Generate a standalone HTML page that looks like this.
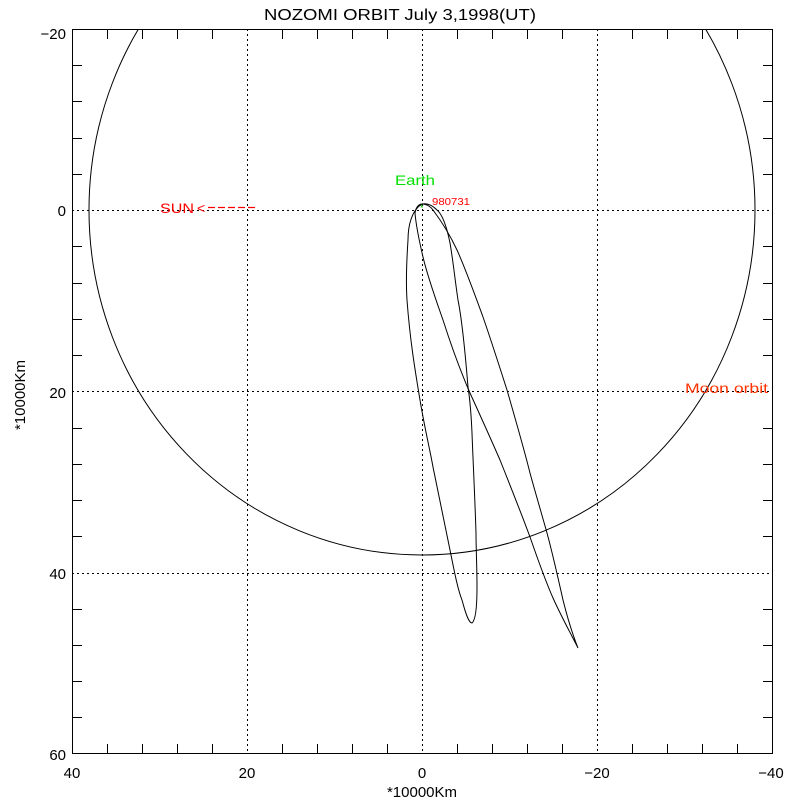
<!DOCTYPE html>
<html><head><meta charset="utf-8"><style>
body{margin:0;background:#fff}
svg text{font-family:"Liberation Sans",sans-serif}
</style></head><body>
<svg width="800" height="800" viewBox="0 0 800 800" xmlns="http://www.w3.org/2000/svg">
<rect width="800" height="800" fill="#fff"/>
<defs><clipPath id="c"><rect x="72" y="29" width="701" height="725"/></clipPath></defs>
<g stroke="#000" stroke-width="1" stroke-dasharray="2,3" fill="none">
<line x1="247.5" y1="29" x2="247.5" y2="754"/>
<line x1="422.5" y1="29" x2="422.5" y2="754"/>
<line x1="597.5" y1="29" x2="597.5" y2="754"/>
<line x1="72" y1="210.5" x2="773" y2="210.5"/>
<line x1="72" y1="391.5" x2="773" y2="391.5"/>
<line x1="72" y1="573.5" x2="773" y2="573.5"/>
</g>
<g clip-path="url(#c)" fill="none" stroke="#000" stroke-width="1">
<ellipse cx="422" cy="210" rx="333" ry="345"/>
<path d="M422,204 C412,210 408,225 408,240 C406,270 406,285 407,300 C410,340 415,370 420,400 C425,430 430,450 433,467 C440,500 445,525 450,550 C455,575 458,590 462,600 C466,615 469,623 472,623 C476,620 477,605 477,587 C477,565 476,550 476,533 C475,500 473,460 472,433 C471,410 470,400 468,387 C465,350 462,320 458,300 C455,280 453,260 450,243 C447,228 443,215 437,210 C432,205 427,203 422,204 Z"/>
<path d="M422,204 C427,204 431,207 433,210 C442,222 450,235 457,250 C466,270 475,295 483,317 C491,340 499,365 507,390 C515,418 523,445 530,473 C536,495 542,515 547,533 C553,555 558,578 563,600 C568,620 574,638 578,648 C570,632 562,618 553,598 C545,580 538,560 530,537 C520,510 510,485 500,460 C490,437 480,415 470,393 C460,370 451,345 443,320 C436,300 428,278 423,257 C419,240 416,225 415,213 C416,207 419,204 422,204 Z"/>
</g>
<rect x="72.5" y="29.5" width="700" height="724" fill="none" stroke="#000" stroke-width="1"/>
<g stroke="#000" stroke-width="1">
<path d="M107.5,754v-10M142.5,754v-10M177.5,754v-10M212.5,754v-10M282.5,754v-10M317.5,754v-10M352.5,754v-10M387.5,754v-10M457.5,754v-10M492.5,754v-10M527.5,754v-10M562.5,754v-10M632.5,754v-10M667.5,754v-10M702.5,754v-10M737.5,754v-10"/>
<path d="M107.5,29v10M142.5,29v10M177.5,29v10M212.5,29v10M282.5,29v10M317.5,29v10M352.5,29v10M387.5,29v10M457.5,29v10M492.5,29v10M527.5,29v10M562.5,29v10M632.5,29v10M667.5,29v10M702.5,29v10M737.5,29v10"/>
<path d="M72,65.5h10M72,101.5h10M72,138.5h10M72,174.5h10M72,246.5h10M72,283.5h10M72,319.5h10M72,355.5h10M72,428.5h10M72,464.5h10M72,500.5h10M72,536.5h10M72,609.5h10M72,645.5h10M72,681.5h10M72,717.5h10"/>
<path d="M773,65.5h-10M773,101.5h-10M773,138.5h-10M773,174.5h-10M773,246.5h-10M773,283.5h-10M773,319.5h-10M773,355.5h-10M773,428.5h-10M773,464.5h-10M773,500.5h-10M773,536.5h-10M773,609.5h-10M773,645.5h-10M773,681.5h-10M773,717.5h-10"/>
</g>
<g font-size="15" fill="#000">
<text x="66" y="39" text-anchor="end">−20</text>
<text x="66" y="216" text-anchor="end">0</text>
<text x="66" y="398" text-anchor="end">20</text>
<text x="66" y="579" text-anchor="end">40</text>
<text x="66" y="760" text-anchor="end">60</text>
<text x="72" y="778" text-anchor="middle">40</text>
<text x="247" y="778" text-anchor="middle">20</text>
<text x="422" y="778" text-anchor="middle">0</text>
<text x="597" y="778" text-anchor="middle">−20</text>
<text x="771" y="778" text-anchor="middle">−40</text>
<text x="422" y="797" text-anchor="middle">*10000Km</text>
<text x="400" y="20" text-anchor="middle" font-size="16" textLength="272" lengthAdjust="spacingAndGlyphs">NOZOMI ORBIT July 3,1998(UT)</text>
<text transform="translate(25,395) rotate(-90)" text-anchor="middle">*10000Km</text>
</g>
<text x="160" y="213" font-size="14" fill="#ff0000" textLength="34" lengthAdjust="spacingAndGlyphs">SUN</text>
<text x="197" y="213" font-size="14" fill="#ff0000">&lt;</text>
<line x1="208" y1="207.5" x2="257" y2="207.5" stroke="#ff0000" stroke-width="1.3" stroke-dasharray="7,3"/>
<text x="685" y="393" font-size="14" fill="#ff3300" textLength="83" lengthAdjust="spacingAndGlyphs">Moon orbit</text>
<text x="395" y="185" font-size="14" fill="#00e000" textLength="40" lengthAdjust="spacingAndGlyphs">Earth</text>
<text x="432" y="205" font-size="10" fill="#ff0000" textLength="38" lengthAdjust="spacingAndGlyphs">980731</text>
<text x="420" y="211" font-size="9" fill="#00c000">*</text>
</svg>
</body></html>
